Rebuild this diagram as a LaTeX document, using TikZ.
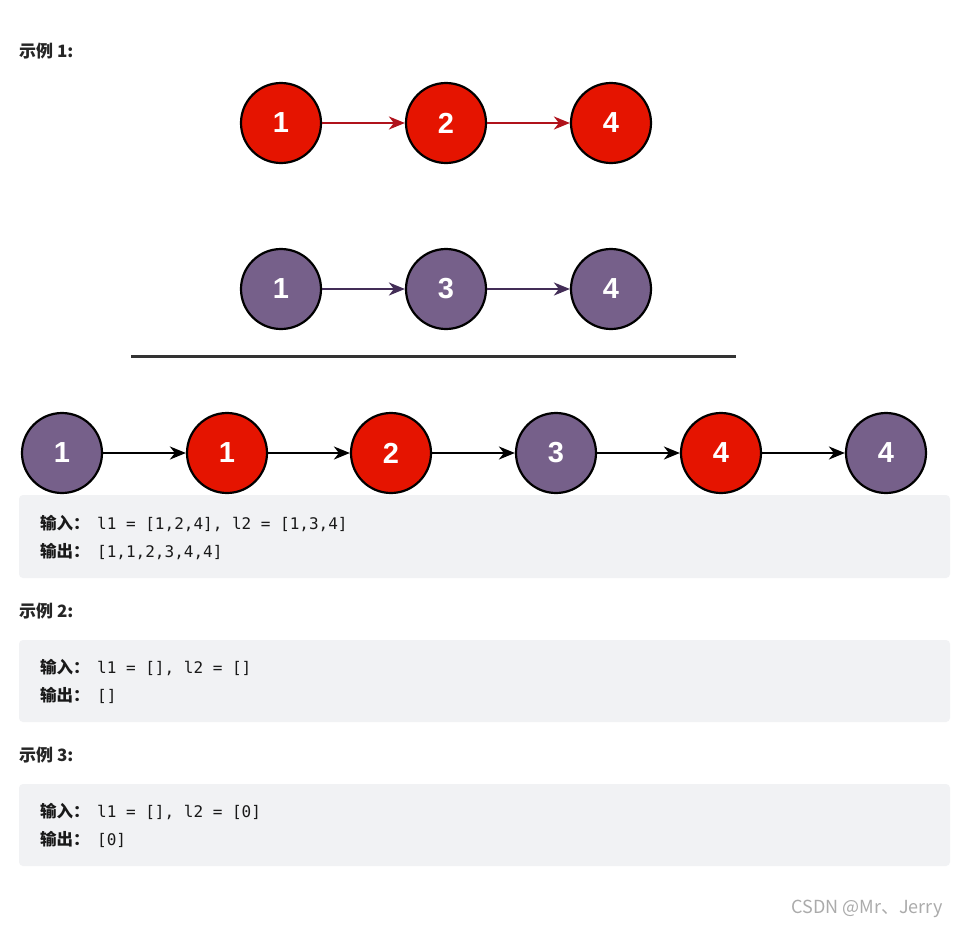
\documentclass[tikz,border=0pt]{standalone}
\usepackage{fontspec}
\setmainfont{Liberation Sans}
\setmonofont{DejaVu Sans Mono}
\newfontfamily\cjk{Noto Sans CJK SC}
\usetikzlibrary{arrows.meta}
\definecolor{ballred}{HTML}{E51400}
\definecolor{ballpurple}{HTML}{76608A}
\definecolor{linkred}{HTML}{B0121B}
\definecolor{linkpurple}{HTML}{432D57}
\definecolor{codebg}{HTML}{F1F2F4}
\definecolor{marktext}{HTML}{ABABAB}
\newcommand{\codeline}[2]{\makebox[57pt][l]{\cjk\bfseries\fontsize{16.5}{16.5}\selectfont #1}{\ttfamily #2}}
\begin{document}
\begin{tikzpicture}[x=1pt,y=-1pt,
  ball/.style={circle,draw=black,line width=2.2pt,minimum size=80pt,inner sep=0pt,
    text=white,font=\fontsize{29}{29}\selectfont\bfseries},
  redball/.style={ball,fill=ballred},
  purpleball/.style={ball,fill=ballpurple},
  link/.style={line width=2.3pt,-{Stealth[length=16pt,width=13pt,inset=5pt]}},
  codebox/.style={fill=codebg,rounded corners=4pt},
  codetext/.style={anchor=west,inner sep=0pt,font=\fontsize{16}{16}\selectfont,text=black!90},
  heading/.style={anchor=west,inner sep=0pt,font=\cjk\bfseries\fontsize{17}{17}\selectfont,text=black!85}]
\useasboundingbox[fill=white] (0,0) rectangle (959,930);
\node[heading] (h1) at (19,51) {示例 1:};
\node[redball] (ra) at (281,123) {1};
\node[redball] (rb) at (446,123) {2};
\node[redball] (rc) at (611,123) {4};
\draw[link,linkred] (ra) -- (rb);
\draw[link,linkred] (rb) -- (rc);
\node[purpleball] (pa) at (281,289) {1};
\node[purpleball] (pb) at (446,289) {3};
\node[purpleball] (pc) at (611,289) {4};
\draw[link,linkpurple] (pa) -- (pb);
\draw[link,linkpurple] (pb) -- (pc);
\draw[line width=3pt,black!80] (131,356) -- (736,356);
\node[purpleball] (ma) at (62,453) {1};
\node[redball] (mb) at (227,453) {1};
\node[redball] (mc) at (391,453) {2};
\node[purpleball] (md) at (556,453) {3};
\node[redball] (me) at (721,453) {4};
\node[purpleball] (mf) at (886,453) {4};
\draw[link] (ma) -- (mb);
\draw[link] (mb) -- (mc);
\draw[link] (mc) -- (md);
\draw[link] (md) -- (me);
\draw[link] (me) -- (mf);
\fill[codebox] (19,495) rectangle (950,578);
\node[codetext] (in1) at (40,523) {\codeline{输入：}{l1 = [1,2,4], l2 = [1,3,4]}};
\node[codetext] (out1) at (40,551) {\codeline{输出：}{[1,1,2,3,4,4]}};
\node[heading] (h2) at (19,611) {示例 2:};
\fill[codebox] (19,640) rectangle (950,722);
\node[codetext] (in2) at (40,667) {\codeline{输入：}{l1 = [], l2 = []}};
\node[codetext] (out2) at (40,695) {\codeline{输出：}{[]}};
\node[heading] (h3) at (19,755) {示例 3:};
\fill[codebox] (19,784) rectangle (950,866);
\node[codetext] (in3) at (40,811) {\codeline{输入：}{l1 = [], l2 = [0]}};
\node[codetext] (out3) at (40,839) {\codeline{输出：}{[0]}};
\node[anchor=east,inner sep=0pt,text=marktext,font=\cjk\fontsize{18}{18}\selectfont] (mark) at (943,909) {CSDN @Mr、Jerry};
\end{tikzpicture}
\end{document}
